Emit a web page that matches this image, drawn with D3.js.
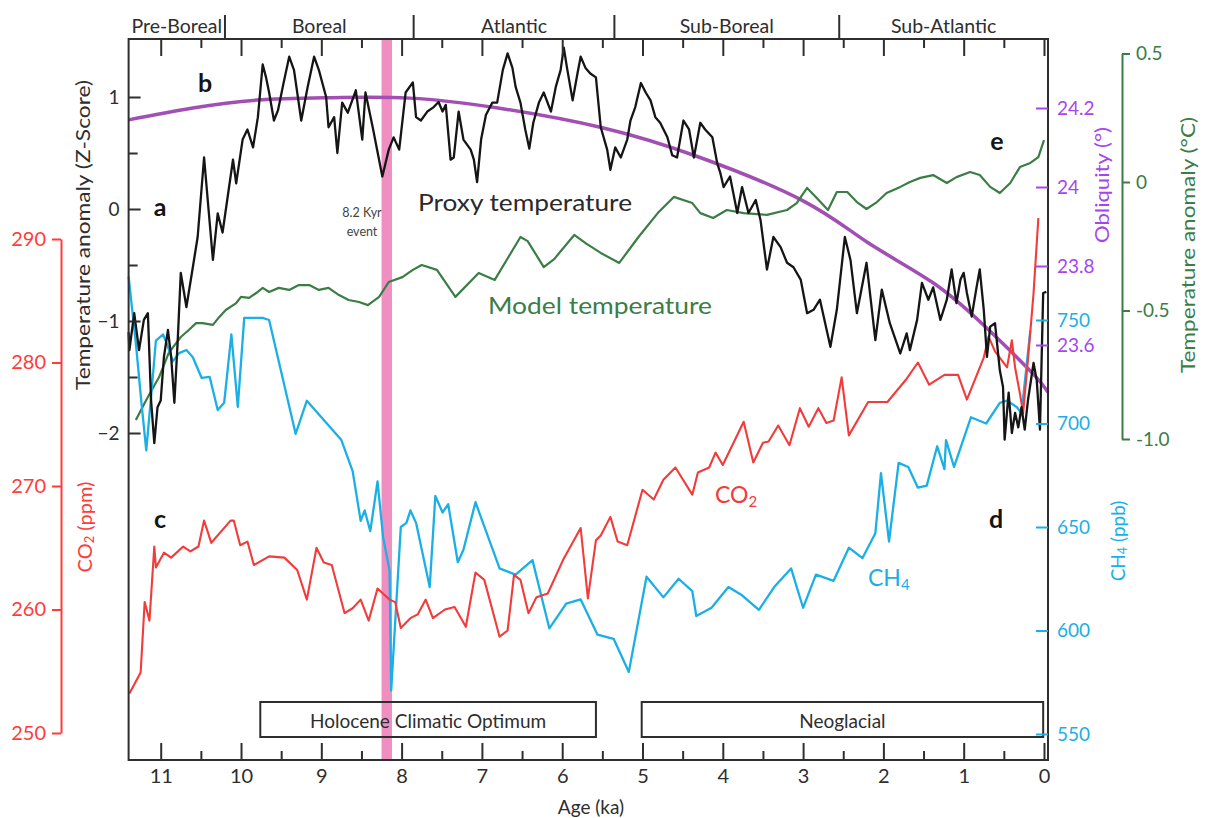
<!DOCTYPE html>
<html><head><meta charset="utf-8">
<script src="https://cdn.jsdelivr.net/npm/d3@7"></script>
<style>body{margin:0;background:#fff}svg{display:block}text{font-family:Lato,"Open Sans",sans-serif}</style>
</head><body><svg id="c" width="1205" height="818"></svg>
<script>
// ---- data (age in ka, values in axis units) ----
const proxyTemp = [[11.40,-1.10],[11.39,-1.26],[11.33,-0.93],[11.27,-1.26],[11.21,-0.99],[11.16,-0.93],[11.12,-1.71],[11.08,-2.09],[11.04,-1.77],[11.00,-1.71],[10.96,-1.32],[10.91,-1.08],[10.87,-1.32],[10.83,-1.73],[10.79,-1.20],[10.75,-0.57],[10.68,-0.875],[10.60,-0.52],[10.54,-0.25],[10.46,0.46],[10.40,-0.04],[10.35,-0.455],[10.29,-0.04],[10.23,-0.21],[10.10,0.44],[10.06,0.23],[9.98,0.62],[9.92,0.71],[9.85,0.55],[9.79,0.82],[9.73,1.29],[9.69,1.18],[9.65,1.04],[9.59,0.79],[9.54,0.88],[9.47,1.125],[9.40,1.36],[9.34,1.24],[9.25,0.79],[9.17,1.09],[9.09,1.36],[9.03,1.24],[8.94,1.0],[8.91,0.73],[8.84,0.82],[8.80,0.5],[8.74,0.95],[8.67,0.86],[8.57,1.06],[8.49,0.62],[8.45,1.04],[8.36,0.73],[8.24,0.29],[8.16,0.53],[8.10,0.64],[8.03,0.53],[7.95,1.04],[7.86,1.13],[7.82,0.82],[7.76,0.79],[7.68,0.87],[7.60,0.91],[7.54,0.955],[7.49,0.87],[7.45,0.93],[7.39,0.44],[7.35,0.46],[7.29,0.87],[7.23,0.62],[7.14,0.53],[7.10,0.44],[7.06,0.24],[7.01,0.62],[6.95,0.84],[6.87,0.95],[6.81,0.95],[6.74,1.24],[6.68,1.39],[6.62,1.26],[6.58,1.09],[6.52,0.95],[6.46,0.71],[6.41,0.54],[6.36,0.77],[6.29,0.95],[6.23,1.04],[6.14,0.87],[6.08,1.09],[6.02,1.24],[5.98,1.44],[5.94,1.26],[5.87,0.97],[5.81,1.21],[5.77,1.36],[5.71,1.26],[5.65,1.21],[5.58,1.175],[5.52,0.73],[5.44,0.53],[5.40,0.35],[5.34,0.55],[5.27,0.46],[5.19,0.62],[5.15,0.79],[5.09,0.91],[5.02,1.125],[4.96,1.04],[4.90,0.97],[4.84,0.82],[4.78,0.77],[4.69,0.64],[4.63,0.48],[4.57,0.46],[4.49,0.79],[4.42,0.71],[4.36,0.46],[4.28,0.77],[4.22,0.71],[4.13,0.64],[4.07,0.41],[4.03,0.32],[3.99,0.196],[3.91,0.29],[3.82,-0.036],[3.76,0.196],[3.68,-0.036],[3.59,0.08],[3.53,-0.1],[3.45,-0.54],[3.37,-0.25],[3.28,-0.34],[3.20,-0.48],[3.12,-0.52],[3.03,-0.63],[2.95,-0.93],[2.87,-0.90],[2.79,-0.81],[2.66,-1.23],[2.58,-0.90],[2.48,-0.25],[2.41,-0.455],[2.33,-0.93],[2.21,-0.48],[2.10,-1.17],[2.02,-0.72],[1.92,-1.02],[1.79,-1.29],[1.71,-1.11],[1.67,-1.26],[1.58,-0.99],[1.52,-0.66],[1.44,-0.81],[1.38,-0.70],[1.29,-0.99],[1.21,-0.81],[1.15,-0.54],[1.09,-0.84],[1.04,-0.63],[1.00,-0.57],[0.96,-0.75],[0.90,-0.96],[0.84,-0.70],[0.80,-0.54],[0.75,-0.90],[0.71,-1.32],[0.67,-1.05],[0.61,-1.02],[0.55,-1.44],[0.51,-1.59],[0.49,-2.06],[0.44,-1.64],[0.40,-2.0],[0.36,-1.82],[0.32,-1.95],[0.28,-1.77],[0.24,-1.97],[0.20,-1.71],[0.13,-1.375],[0.09,-1.53],[0.05,-1.97],[0.01,-0.75],[-0.03,-0.74]];

const modelTemp = [[11.31,-0.926],[11.18,-0.848],[11.02,-0.759],[10.90,-0.665],[10.75,-0.603],[10.65,-0.576],[10.56,-0.549],[10.48,-0.549],[10.35,-0.556],[10.27,-0.525],[10.19,-0.498],[10.06,-0.471],[10.00,-0.447],[9.90,-0.451],[9.81,-0.432],[9.73,-0.412],[9.65,-0.428],[9.53,-0.412],[9.40,-0.420],[9.28,-0.401],[9.15,-0.401],[9.03,-0.420],[8.91,-0.412],[8.78,-0.440],[8.66,-0.459],[8.53,-0.467],[8.42,-0.479],[8.28,-0.447],[8.16,-0.389],[7.99,-0.370],[7.86,-0.342],[7.75,-0.323],[7.56,-0.342],[7.33,-0.447],[7.04,-0.354],[6.84,-0.381],[6.52,-0.214],[6.43,-0.230],[6.23,-0.331],[6.10,-0.300],[5.85,-0.206],[5.70,-0.240],[5.52,-0.276],[5.29,-0.315],[5.05,-0.214],[4.81,-0.121],[4.61,-0.058],[4.38,-0.082],[4.28,-0.121],[4.12,-0.140],[3.95,-0.109],[3.74,-0.121],[3.45,-0.128],[3.20,-0.109],[3.08,-0.082],[2.95,-0.023],[2.83,-0.062],[2.69,-0.109],[2.58,-0.039],[2.45,-0.039],[2.33,-0.078],[2.21,-0.105],[2.08,-0.078],[1.96,-0.043],[1.79,-0.019],[1.67,0.0],[1.54,0.016],[1.38,0.027],[1.21,-0.004],[1.09,0.019],[0.92,0.039],[0.80,0.027],[0.67,-0.019],[0.55,-0.043],[0.42,-0.004],[0.30,0.058],[0.17,0.074],[0.07,0.097],[0.0,0.163]];

const co2 = [[11.39,253.2],[11.25,254.9],[11.20,260.6],[11.14,259.1],[11.08,265.1],[11.06,263.4],[10.96,264.6],[10.87,264.2],[10.72,265.1],[10.63,264.7],[10.53,265.1],[10.46,267.2],[10.37,265.4],[10.13,267.2],[10.09,267.2],[10.01,265.2],[9.92,265.5],[9.84,263.6],[9.65,264.3],[9.46,264.2],[9.30,263.2],[9.18,260.8],[9.06,265.0],[8.97,263.8],[8.87,263.6],[8.71,259.7],[8.61,260.1],[8.51,260.8],[8.41,259.1],[8.30,261.7],[8.15,260.8],[8.08,260.6],[8.01,258.5],[7.89,259.3],[7.80,259.6],[7.70,260.8],[7.61,259.3],[7.46,260.0],[7.34,260.2],[7.20,258.6],[7.08,263.0],[6.97,262.4],[6.78,257.8],[6.68,258.3],[6.60,262.8],[6.52,262.4],[6.42,259.7],[6.32,261.0],[6.18,261.3],[5.99,264.0],[5.77,266.6],[5.68,260.9],[5.58,265.6],[5.52,266.0],[5.40,267.5],[5.31,265.5],[5.19,265.2],[5.00,269.7],[4.86,268.9],[4.74,270.5],[4.59,271.5],[4.38,269.3],[4.31,271.1],[4.17,271.5],[4.09,272.7],[4.00,271.7],[3.74,275.2],[3.62,271.9],[3.50,273.5],[3.43,273.6],[3.31,274.9],[3.17,273.3],[3.04,276.3],[2.93,274.8],[2.81,276.3],[2.71,275.1],[2.62,275.3],[2.52,278.8],[2.43,274.1],[2.19,276.8],[1.95,276.8],[1.72,278.6],[1.57,280.0],[1.43,278.2],[1.24,279.0],[1.07,279.0],[0.96,277.0],[0.75,280.4],[0.69,282.1],[0.61,280.9],[0.46,279.6],[0.40,281.8],[0.36,279.6],[0.30,277.5],[0.26,275.9],[0.20,280.2],[0.13,285.6],[0.07,291.7]];

const ch4 = [[11.40,771],[11.31,739],[11.24,710],[11.18,687],[11.12,713],[11.06,740],[10.97,743],[10.91,737],[10.85,730],[10.77,734],[10.68,735.5],[10.60,732],[10.49,722],[10.39,722.5],[10.29,706.5],[10.21,710],[10.12,743],[10.04,708],[9.96,751],[9.73,751],[9.65,750],[9.32,695],[9.18,711],[8.75,692],[8.61,677],[8.51,653],[8.46,658],[8.39,648],[8.30,672],[8.23,645],[8.15,629],[8.13,571],[8.01,650],[7.94,652],[7.89,658],[7.82,652],[7.65,621],[7.58,665],[7.49,657],[7.42,661],[7.30,633],[7.23,639],[7.08,662],[6.94,647],[6.78,630],[6.58,627],[6.37,634],[6.16,601],[5.95,613],[5.77,615],[5.56,598],[5.36,596],[5.17,580],[4.95,626],[4.74,616],[4.55,625],[4.38,619],[4.33,607],[4.14,611],[3.93,621],[3.76,617],[3.55,610],[3.36,621],[3.15,630],[3.00,611],[2.84,627],[2.62,624],[2.43,640],[2.26,635],[2.10,647],[2.03,676],[1.93,643],[1.81,681],[1.69,679],[1.57,669],[1.46,670],[1.33,689],[1.24,678],[1.22,692],[1.12,679],[0.91,703],[0.72,700],[0.55,710],[0.46,711],[0.34,708],[0.28,705],[0.17,745]];

const obliquity = [[11.4,24.17],[10.6,24.20],[9.8,24.22],[8.9,24.226],[7.9,24.225],[6.8,24.20],[5.5,24.15],[4.3,24.076],[3.0,23.965],[2.2,23.86],[1.4,23.76],[0.75,23.65],[0.15,23.53],[-0.05,23.48]];

const ageTicks = [0,1,2,3,4,5,6,7,8,9,10,11];
const ageMinorTicks = [0.5,1.5,2.5,3.5,4.5,5.5,6.5,7.5,8.5,9.5,10.5];
const zTicks = [-2,-1,0,1];
const zMinorTicks = [-1.5,-0.5,0.5];
const co2Ticks = [250,260,270,280,290];
const ch4Ticks = [550,600,650,700,750];
const oblTicks = [23.6,23.8,24,24.2];
const tempTicks = [-1,-0.5,0,0.5];
const tempTickLabels = ["-1.0","-0.5","0","0.5"];

const periods = ["Pre-Boreal","Boreal","Atlantic","Sub-Boreal","Sub-Atlantic"];
const periodBounds = [11.4,10.2,7.85,5.35,2.55,-0.05];
const stages = [{label:"Holocene Climatic Optimum",from:9.76,to:5.58},{label:"Neoglacial",from:5.01,to:0.01}];
const event82 = {from:8.25,to:8.12};

// ---- layout ----
const L=128.6,R=1048,T=39,B=760;
const svg=d3.select("#c");
svg.append("rect").attr("width",1205).attr("height",818).attr("fill","#fff");

const x=d3.scaleLinear().domain([11.4,-0.05]).range([L,R]);
const yZ=d3.scaleLinear().domain([-2,1]).range([433,97]);
const yCO2=d3.scaleLinear().domain([250,290]).range([733,239]);
const yCH4=d3.scaleLinear().domain([550,750]).range([734,320]);
const yObl=d3.scaleLinear().domain([23.6,24.2]).range([345,108]);
const yT=d3.scaleLinear().domain([-1,0.5]).range([439,53.5]);

const C={ink:"#2e2e2e",red:"#f23b3b",blue:"#1bafe6",green:"#3b7d45",purple:"#a24fb3",violet:"#a645ee",pink:"#ef8fc1"};

svg.append("rect").attr("x",x(event82.from)).attr("width",x(event82.to)-x(event82.from))
  .attr("y",T).attr("height",B-T).attr("fill",C.pink);

const sg=svg.append("g");
stages.forEach(s=>{
  sg.append("rect").attr("x",x(s.from)).attr("width",x(s.to)-x(s.from)).attr("y",702).attr("height",35)
    .attr("fill","none").attr("stroke",C.ink).attr("stroke-width",2);
});

function drawLine(data,ys,color,w,curve){
  svg.append("path").datum(data).attr("fill","none").attr("stroke",color).attr("stroke-width",w)
    .attr("stroke-linejoin","round")
    .attr("d",d3.line().x(d=>x(d[0])).y(d=>ys(d[1])).curve(curve||d3.curveLinear));
}
drawLine(obliquity,yObl,C.purple,3.5,d3.curveNatural);
drawLine(modelTemp,yT,C.green,2.2);
drawLine(ch4,yCH4,C.blue,2.3);
drawLine(co2,yCO2,C.red,2.1);
drawLine(proxyTemp,yZ,"#151515",2.3);

stages.forEach(s=>{
  svg.append("text").attr("x",(x(s.from)+x(s.to))/2).attr("y",720).attr("text-anchor","middle")
    .attr("dominant-baseline","central").attr("font-size",19).attr("fill",C.ink).text(s.label);
});

const fr=svg.append("g").attr("stroke",C.ink).attr("stroke-width",2).attr("fill","none");
fr.append("path").attr("d",`M${L},${T}H${R}V${B}H${L}Z`);

function styleAxis(g,color,fs){
  g.selectAll(".tick line").attr("stroke",color).attr("stroke-width",2);
  g.selectAll(".tick text").attr("fill",color).attr("font-size",fs).attr("font-family","Lato,'Open Sans',sans-serif");
  g.select(".domain").attr("stroke",color).attr("stroke-width",2);
}
let g=svg.append("g").attr("transform",`translate(0,${B})`)
  .call(d3.axisBottom(x).tickValues(ageTicks).tickSizeInner(-17).tickSizeOuter(0).tickPadding(9).tickFormat(d3.format("d")));
g.select(".domain").remove(); styleAxis(g,C.ink,20);
g=svg.append("g").attr("transform",`translate(0,${B})`)
  .call(d3.axisBottom(x).tickValues(ageMinorTicks).tickSizeInner(-9).tickFormat(""));
g.select(".domain").remove(); styleAxis(g,C.ink,20);
g=svg.append("g").attr("transform",`translate(0,${T})`)
  .call(d3.axisTop(x).tickValues(ageTicks).tickSizeInner(-17).tickFormat(""));
g.select(".domain").remove(); styleAxis(g,C.ink,20);
g=svg.append("g").attr("transform",`translate(0,${T})`)
  .call(d3.axisTop(x).tickValues(ageMinorTicks).tickSizeInner(-9).tickFormat(""));
g.select(".domain").remove(); styleAxis(g,C.ink,20);

g=svg.append("g").attr("transform",`translate(${L},0)`)
  .call(d3.axisLeft(yZ).tickValues(zTicks).tickSizeInner(-12).tickPadding(9).tickFormat(d3.format("d")));
g.select(".domain").remove(); styleAxis(g,C.ink,19);
g=svg.append("g").attr("transform",`translate(${L},0)`)
  .call(d3.axisLeft(yZ).tickValues(zMinorTicks).tickSizeInner(-9).tickFormat(""));
g.select(".domain").remove(); styleAxis(g,C.ink,19);

g=svg.append("g").attr("transform",`translate(61,0)`)
  .call(d3.axisLeft(yCO2).tickValues(co2Ticks).tickSizeInner(9).tickSizeOuter(0).tickPadding(6).tickFormat(d3.format("d")));
styleAxis(g,"#ff3b3b",20);

g=svg.append("g").attr("transform",`translate(${R},0)`)
  .call(d3.axisRight(yObl).tickValues(oblTicks).tickSizeInner(-12).tickPadding(9).tickFormat(d=>d===24?"24":d3.format(".1f")(d)));
g.select(".domain").remove(); styleAxis(g,C.violet,19);
g=svg.append("g").attr("transform",`translate(${R},0)`)
  .call(d3.axisRight(yCH4).tickValues(ch4Ticks).tickSizeInner(-12).tickPadding(9).tickFormat(d3.format("d")));
g.select(".domain").remove(); styleAxis(g,C.blue,19);
g=svg.append("g").attr("transform",`translate(1122,0)`)
  .call(d3.axisRight(yT).tickValues(tempTicks).tickSizeInner(8).tickSizeOuter(0).tickPadding(6).tickFormat((d,i)=>tempTickLabels[i]));
styleAxis(g,C.green,19);

for(let i=0;i<periods.length;i++){
  svg.append("text").attr("x",(x(periodBounds[i])+x(periodBounds[i+1]))/2).attr("y",25)
    .attr("text-anchor","middle").attr("dominant-baseline","central").attr("font-size",19.5).attr("fill",C.ink).text(periods[i]);
}
periodBounds.slice(1,-1).forEach(b=>{
  svg.append("line").attr("x1",x(b)).attr("x2",x(b)).attr("y1",15).attr("y2",T).attr("stroke",C.ink).attr("stroke-width",2);
});

function vtext(xp,yp,fill,fs,len){
  const t=svg.append("text").attr("transform",`translate(${xp},${yp}) rotate(-90)`).attr("text-anchor","middle")
    .attr("dominant-baseline","central").attr("font-size",fs).attr("fill",fill);
  if(len) t.attr("textLength",len).attr("lengthAdjust","spacingAndGlyphs");
  return t;
}
vtext(82,235,C.ink,20,310).text("Temperature anomaly (Z-Score)");
let t=vtext(84,527,"#ff3b3b",20); t.append("tspan").text("CO"); t.append("tspan").attr("font-size",13).attr("dy",5).text("2"); t.append("tspan").attr("dy",-5).text(" (ppm)");
vtext(1101,185,C.violet,19,116).text("Obliquity (°)");
t=vtext(1117,541,C.blue,19); t.append("tspan").text("CH"); t.append("tspan").attr("font-size",12.5).attr("dy",5).text("4"); t.append("tspan").attr("dy",-5).text(" (ppb)");
vtext(1187,245,C.green,19,256).text("Temperature anomaly (°C)");
svg.append("text").attr("x",591).attr("y",806).attr("text-anchor","middle").attr("dominant-baseline","central")
  .attr("font-size",19).attr("fill",C.ink).text("Age (ka)");

[["a",160,206],["b",205,82],["c",160,518],["d",996,518],["e",997,140]].forEach(p=>{
  svg.append("text").attr("x",p[1]).attr("y",p[2]).attr("text-anchor","middle").attr("dominant-baseline","central")
    .attr("font-size",25).attr("font-weight","bold").attr("fill","#151515").text(p[0]);
});

svg.append("text").attr("x",418).attr("y",202).attr("dominant-baseline","central").attr("font-size",23)
  .attr("fill","#2a2a2a").attr("textLength",214).attr("lengthAdjust","spacingAndGlyphs").text("Proxy temperature");
svg.append("text").attr("x",488).attr("y",305).attr("dominant-baseline","central").attr("font-size",23)
  .attr("fill",C.green).attr("textLength",224).attr("lengthAdjust","spacingAndGlyphs").text("Model temperature");
t=svg.append("text").attr("x",715).attr("y",494).attr("dominant-baseline","central").attr("font-size",23).attr("fill",C.red);
t.append("tspan").text("CO"); t.append("tspan").attr("font-size",15).attr("dy",7).text("2");
t=svg.append("text").attr("x",868).attr("y",577).attr("dominant-baseline","central").attr("font-size",23).attr("fill",C.blue);
t.append("tspan").text("CH"); t.append("tspan").attr("font-size",15).attr("dy",7).text("4");
svg.append("text").attr("x",362).attr("y",212).attr("text-anchor","middle").attr("dominant-baseline","central")
  .attr("font-size",12.5).attr("fill","#444").text("8.2 Kyr");
svg.append("text").attr("x",362).attr("y",231).attr("text-anchor","middle").attr("dominant-baseline","central")
  .attr("font-size",12.5).attr("fill","#444").text("event");
</script></body></html>
